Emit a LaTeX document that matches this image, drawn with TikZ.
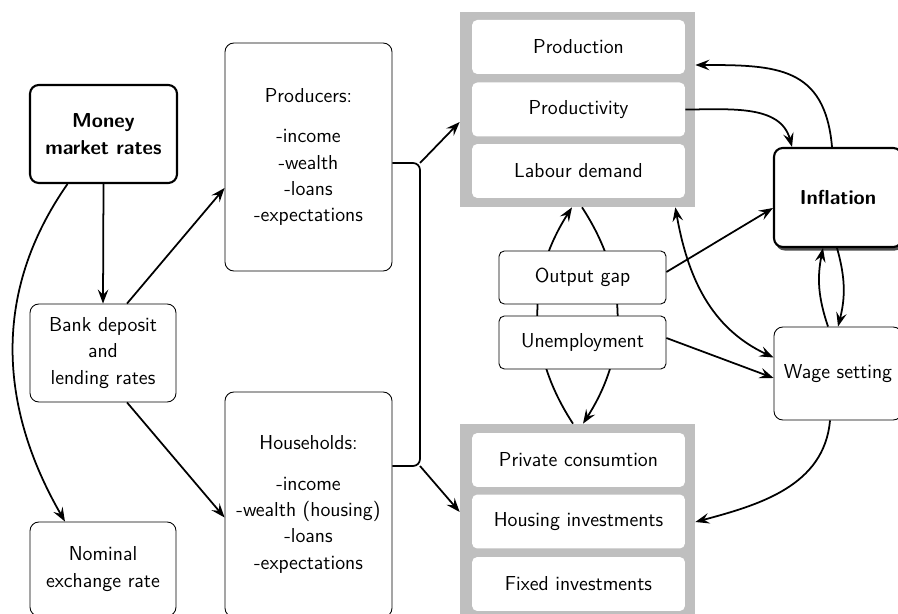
\documentclass[tikz,border=0pt]{standalone}
\usepackage{tikz}
\usetikzlibrary{arrows.meta,calc,shadows}

\begin{document}
\begin{tikzpicture}
[
    x = 0.02cm, y = -0.02cm,
    font = \fontsize{11.5}{15}\selectfont\sffamily,
    box/.style = {draw, rounded corners = 5pt, fill = white, align = center, inner sep = 0pt, line width = 0.5pt},
    keybox/.style = {box, line width = 1.2pt, font = \fontsize{11.5}{15}\selectfont\sffamily\bfseries},
    item/.style = {fill = white, rounded corners = 3pt, minimum width = 4.26cm, minimum height = 1.08cm, inner sep = 0pt},
    group/.style = {fill = gray!50, minimum width = 4.7cm, inner sep = 0pt},
    link/.style = {-{Stealth[length = 8pt, width = 6pt, inset = 3pt]}, line width = 1pt},
    twoway/.style = {{Stealth[length = 8pt, width = 6pt, inset = 3pt]}-{Stealth[length = 8pt, width = 6pt, inset = 3pt]}, line width = 1pt},
]
\useasboundingbox (0,0) rectangle (898,614);

\node[keybox, minimum width = 2.94cm, minimum height = 1.96cm] (money) at (103.5,134) {Money\\market rates};
\node[box, minimum width = 2.92cm, minimum height = 1.96cm] (bank) at (103,353) {Bank deposit\\and\\lending rates};
\node[box, minimum width = 2.92cm, minimum height = 1.88cm] (nominal) at (103,569) {Nominal\\exchange rate};
\node[box, minimum width = 3.34cm, minimum height = 4.56cm] (producers) at (308.5,157)
    {Producers:\\[8pt] -income\\-wealth\\-loans\\-expectations};
\node[box, minimum width = 3.34cm, minimum height = 4.5cm] (households) at (308.5,504.5)
    {Households:\\[8pt] -income\\-wealth (housing)\\-loans\\-expectations};

\node[group, minimum height = 3.9cm] (supply) at (577.5,109.5) {};
\node[item] (production) at (578.5,47) {Production};
\node[item] (productivity) at (578.5,109.5) {Productivity};
\node[item] (labour) at (578.5,171) {Labour demand};

\node[group, minimum height = 3.92cm] (demand) at (577.5,522) {};
\node[item] (private) at (578.5,460) {Private consumtion};
\node[item] (housing) at (578.5,521.5) {Housing investments};
\node[item] (fixed) at (578.5,584) {Fixed investments};

\draw[link] ($(demand.north)+(-4.5,0)$) to[bend left = 33] ($(supply.south)+(-5.5,0)$);
\draw[link] ($(supply.south)+(4.5,0)$) to[bend left = 33] ($(demand.north)+(5.5,0)$);

\node[box, rounded corners = 3pt, minimum width = 3.34cm, minimum height = 1.06cm] (gap) at (582.5,277.5) {Output gap};
\node[box, rounded corners = 3pt, minimum width = 3.34cm, minimum height = 1.06cm] (unemployment) at (582.5,342.5) {Unemployment};

\node[keybox, minimum width = 2.56cm, minimum height = 1.98cm,
    drop shadow = {shadow xshift = 1pt, shadow yshift = -2pt, fill = black!70, opacity = 1}] (inflation) at (838,197.5) {Inflation};
\node[box, minimum width = 2.56cm, minimum height = 1.86cm] (wage) at (838,373.5) {Wage setting};

\coordinate (bracetop) at (420,163);
\coordinate (bracebot) at (420,466);
\draw[line width = 1pt, rounded corners = 4pt] (producers.east |- bracetop) -- (bracetop) -- (bracebot) -- (households.east |- bracebot);

\draw[link] (money.south) -- (bank.north);
\draw[link] ($(money.south)+(-36,0)$) to[out = -125, in = 120] ($(nominal.north)+(-38,0)$);
\draw[link] ($(bank.north)+(24,0)$) -- ($(producers.west)+(0,31)$);
\draw[link] ($(bank.south)+(24,0)$) -- ($(households.west)+(0,13)$);
\draw[link] (bracetop) -- ($(supply.west)+(0,12.5)$);
\draw[link] (bracebot) -- ($(demand.west)+(0,-10)$);

\draw[link] ($(gap.east)+(0,-5.5)$) -- ($(inflation.west)+(0,10.5)$);
\draw[link] ($(unemployment.east)+(0,-4.5)$) -- ($(wage.west)+(0,4.5)$);
\draw[twoway] ($(supply.south east)+(-20,0)$) to[out = -80, in = 155] ($(wage.west)+(0,-16)$);
\draw[link] (productivity.east) to[out = 0, in = 105] ($(inflation.north)+(-46,0)$);
\draw[link] ($(inflation.north)+(-6,0)$) to[out = 95, in = 0, looseness = 1.3] ($(supply.east)+(0,-44.5)$);
\draw[link] ($(wage.north)+(-10,0)$) to[bend left = 15] ($(inflation.south)+(-15,0)$);
\draw[link] ($(inflation.south)+(-1,0)$) to[bend left = 15] (wage.north);
\draw[link] ($(wage.south)+(-8,0)$) to[out = -95, in = 15] (demand.east);
\end{tikzpicture}
\end{document}
